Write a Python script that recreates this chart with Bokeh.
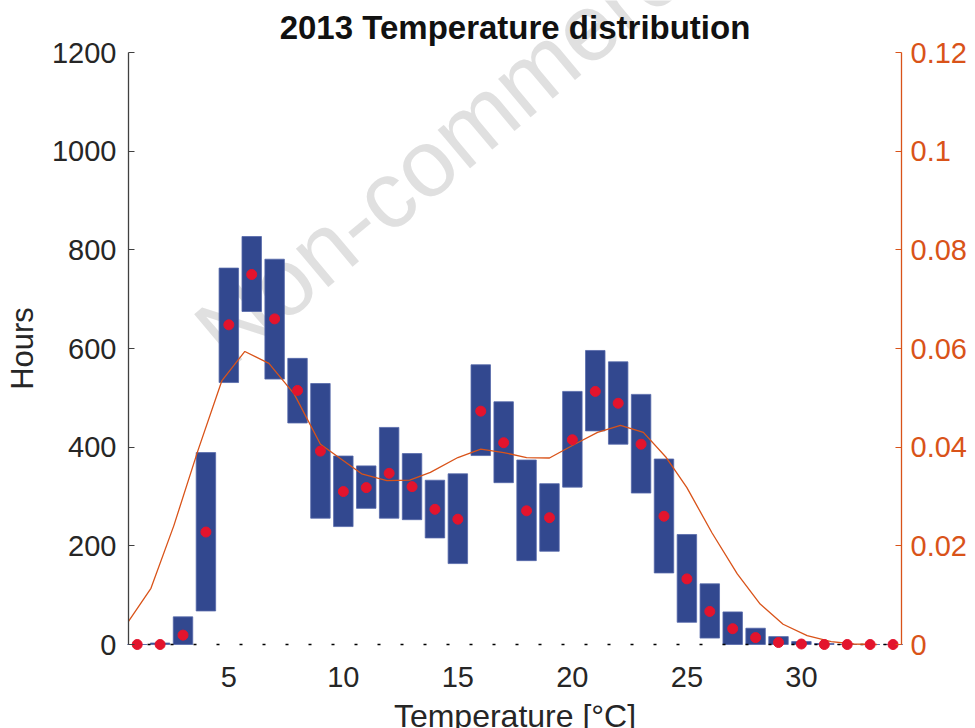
import math
from bokeh.plotting import figure
from bokeh.models import Range1d, LinearAxis, FixedTicker, CustomJSTickFormatter, Label
from bokeh.embed import file_html
from bokeh.resources import INLINE

# hourly temperatures 2013, binned per degree
temps = list(range(1, 35))
box_low = [0, 0, 0, 68, 531, 675, 538, 449, 256, 239, 276, 256, 253, 216, 164, 383, 328,
           170, 189, 319, 433, 406, 307, 145, 45, 13, 0, 0, 0, 0, 0, 0, 0, 0]
box_high = [0, 3, 56, 389, 763, 827, 781, 580, 529, 382, 362, 440, 387, 333, 346, 567, 492,
            374, 326, 513, 596, 573, 507, 376, 223, 123, 66, 33, 16, 6, 2, 0, 0, 0]
hours_mean = [0, 0, 19, 228, 648, 750, 660, 515, 392, 310, 318, 347, 320, 274, 254, 473, 409,
              271, 257, 415, 513, 489, 406, 260, 133, 67, 32, 14, 4, 1, 0, 0, 0, 0]

# density curve (right axis)
dens_x = [0.62, 1.6, 2.6, 3.65, 4.7, 5.7, 6.75, 7.85, 9.0, 9.9, 10.8, 11.9, 12.9, 13.8, 15.0,
          16.0, 17.0, 18.0, 19.0, 20.1, 21.1, 22.1, 23.1, 24.1, 25.0, 26.1, 27.2, 28.2, 29.2,
          30.25, 31.3, 32.3, 33.3]
dens_y = [0.0047, 0.0114, 0.0241, 0.0393, 0.0535, 0.0594, 0.0570, 0.0508, 0.0406, 0.0376,
          0.0346, 0.0332, 0.0333, 0.0349, 0.0379, 0.0396, 0.0389, 0.0379, 0.0378, 0.0406,
          0.0430, 0.0444, 0.0430, 0.0379, 0.0318, 0.0226, 0.0143, 0.0082, 0.0041, 0.0018,
          0.0006, 0.0001, 0.0]

x_ticks = [5, 10, 15, 20, 25, 30]
hour_ticks = [0, 200, 400, 600, 800, 1000, 1200]
dens_ticks = [0, 0.02, 0.04, 0.06, 0.08, 0.1, 0.12]

x_lo, x_hi = 0.62, 34.37      # axis limits
h_max, d_max = 1200, 0.12

FONT = "Liberation Sans"
DARK = "#262626"
ORANGE = "#D95319"

# page geometry: the frame fills the canvas, the axes sit at fixed places
W, H = 975, 728
AX_L, AX_T, AX_W, AX_H = 128, 52, 773, 592
sx = AX_W / (x_hi - x_lo)
sy = AX_H / h_max
x_range = Range1d(x_lo - AX_L / sx, x_hi + (W - AX_L - AX_W) / sx)
y_range = Range1d(-(H - AX_T - AX_H) / sy, h_max + AX_T / sy)
k = d_max / h_max
d_range = Range1d(y_range.start * k, y_range.end * k)

p = figure(width=W, height=H,
           output_backend="svg",
           toolbar_location=None,
           x_range=x_range, y_range=y_range,
           x_axis_location=None, y_axis_location=None,
           min_border=0)
p.extra_y_ranges = {"dens": d_range}
p.outline_line_color = None
p.grid.grid_line_color = None

# watermark under the data
wm = Label(x=4.14, y=609, text="Non-commercial use", angle=math.radians(40),
           text_font=FONT, text_font_size="95px", text_color="#e0e0e0",
           text_baseline="alphabetic", level="underlay")
p.add_layout(wm)

# bottom axis: labels only
xaxis = LinearAxis(fixed_location=0, bounds=(x_lo, x_hi), ticker=FixedTicker(ticks=x_ticks))
xaxis.axis_label = "Temperature [°C]"
xaxis.axis_label_text_font = FONT
xaxis.axis_label_text_font_size = "32px"
xaxis.axis_label_text_font_style = "normal"
xaxis.axis_label_text_color = DARK
xaxis.axis_label_standoff = 8
xaxis.axis_line_color = None
xaxis.major_tick_line_color = None
xaxis.minor_tick_line_color = None
xaxis.major_label_text_font = FONT
xaxis.major_label_text_font_size = "29px"
xaxis.major_label_text_color = DARK
xaxis.major_label_standoff = 16
p.add_layout(xaxis, "below")

# left axis
yaxis = LinearAxis(fixed_location=x_lo, bounds=(0, h_max), ticker=FixedTicker(ticks=hour_ticks))
yaxis.axis_label = "Hours"
yaxis.axis_label_text_font = FONT
yaxis.axis_label_text_font_size = "31px"
yaxis.axis_label_text_font_style = "normal"
yaxis.axis_label_text_color = DARK
yaxis.axis_label_standoff = 9
yaxis.axis_line_color = "#404040"
yaxis.axis_line_width = 1.3
yaxis.major_tick_line_color = "#404040"
yaxis.major_tick_in = 6
yaxis.major_tick_out = 0
yaxis.minor_tick_line_color = None
yaxis.major_label_text_font = FONT
yaxis.major_label_text_font_size = "29px"
yaxis.major_label_text_color = DARK
yaxis.major_label_standoff = 12
p.add_layout(yaxis, "left")

# right axis for the density
right = LinearAxis(y_range_name="dens", fixed_location=x_hi, bounds=(0, d_max),
                   ticker=FixedTicker(ticks=dens_ticks),
                   formatter=CustomJSTickFormatter(code="return String(Number(tick.toFixed(2)));"))
right.axis_line_color = ORANGE
right.axis_line_width = 1.3
right.major_tick_line_color = ORANGE
right.major_tick_in = 6
right.major_tick_out = 0
right.minor_tick_line_color = None
right.major_label_text_font = FONT
right.major_label_text_font_size = "29px"
right.major_label_text_color = ORANGE
right.major_label_standoff = 9
p.add_layout(right, "right")

p.vbar(x=temps, bottom=box_low, top=box_high, width=0.85,
       fill_color="#32488f", line_color="#5668aa", line_width=0.8)

# dotted zero line between the two axes
p.line([x_lo, x_hi], [0, 0], line_color="black", line_width=1.5,
       line_dash="3 20", line_dash_offset=4)

p.line(dens_x, dens_y, y_range_name="dens", line_color=ORANGE, line_width=1.3)

p.scatter(temps, hours_mean, size=10, fill_color="#e3142d", line_color="#e3142d")

title = Label(x=(x_lo + x_hi) / 2, y=h_max + (AX_T - 27) / sy,
              text="2013 Temperature distribution", text_align="center",
              text_baseline="alphabetic", text_font=FONT, text_font_size="33px",
              text_font_style="bold", text_color="#111111")
p.add_layout(title)

open("out.html", "w").write(file_html(p, INLINE))
